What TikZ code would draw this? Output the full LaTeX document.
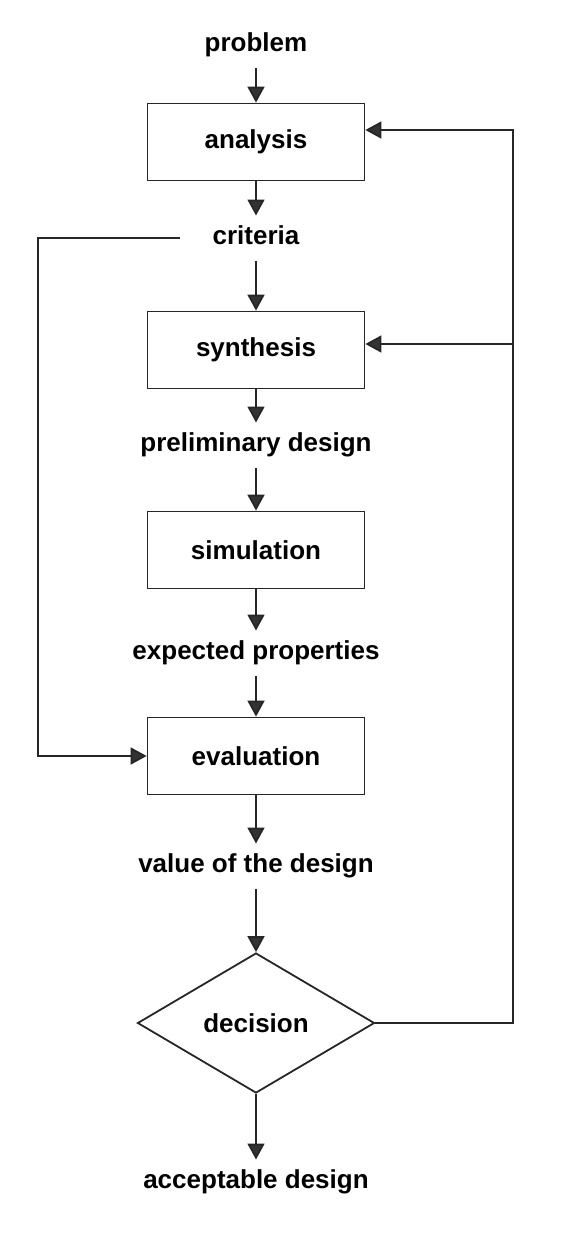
\documentclass[tikz,border=0pt]{standalone}
\usepackage{fontspec}
\setmainfont{Liberation Sans}
\usetikzlibrary{arrows.meta,shapes.geometric}

\begin{document}
\begin{tikzpicture}[x=1pt,y=-1pt,
    every node/.style={font=\fontsize{26}{30}\selectfont\bfseries},
    stagebox/.style={draw=black!85,line width=1.8pt,minimum width=217pt,minimum height=77pt,inner sep=0pt},
    txt/.style={inner sep=0pt,outer sep=10pt,text height=19pt,text depth=6pt},
    gate/.style={draw=black!85,diamond,line width=1.8pt,minimum width=237pt,minimum height=140pt,inner sep=0pt},
    flow/.style={draw=black!85,line width=1.8pt,-{Triangle[width=17pt,length=16pt,fill=black!80]}}]
  \useasboundingbox (0,0) rectangle (580,1240);

  \node[txt] (problem) at (256,45) {problem};
  \node[stagebox] (analysis) at (256,142) {analysis};
  \node[txt] (criteria) at (256,238) {criteria};
  \node[stagebox] (synthesis) at (256,350) {synthesis};
  \node[txt] (prelim) at (256,445) {preliminary design};
  \node[stagebox] (simulation) at (256,550) {simulation};
  \node[txt] (expected) at (256,653) {expected properties};
  \node[stagebox] (evaluation) at (256,756) {evaluation};
  \node[txt] (value) at (256,866) {value of the design};
  \node[gate] (decision) at (256,1023) {decision};
  \node[txt] (accept) at (256,1182) {acceptable design};

  \coordinate (eastrail) at (513,0);
  \coordinate (westrail) at (38,0);

  \draw[flow] (problem) -- (analysis);
  \draw[flow] (analysis) -- (criteria);
  \draw[flow] (criteria) -- (synthesis);
  \draw[flow] (synthesis) -- (prelim);
  \draw[flow] (prelim) -- (simulation);
  \draw[flow] (simulation) -- (expected);
  \draw[flow] (expected) -- (evaluation);
  \draw[flow] (evaluation) -- (value);
  \draw[flow] (value) -- (decision);
  \draw[flow] (decision) -- (accept);

  \draw[flow] (decision.east) -- (decision.east -| eastrail) |- ([yshift=12pt]analysis.east);
  \draw[flow] ([yshift=6pt]synthesis.east -| eastrail) -- ([yshift=6pt]synthesis.east);
  \draw[flow,shorten <=23pt] (criteria.west) -- (criteria.west -| westrail) |- (evaluation.west);
\end{tikzpicture}
\end{document}
